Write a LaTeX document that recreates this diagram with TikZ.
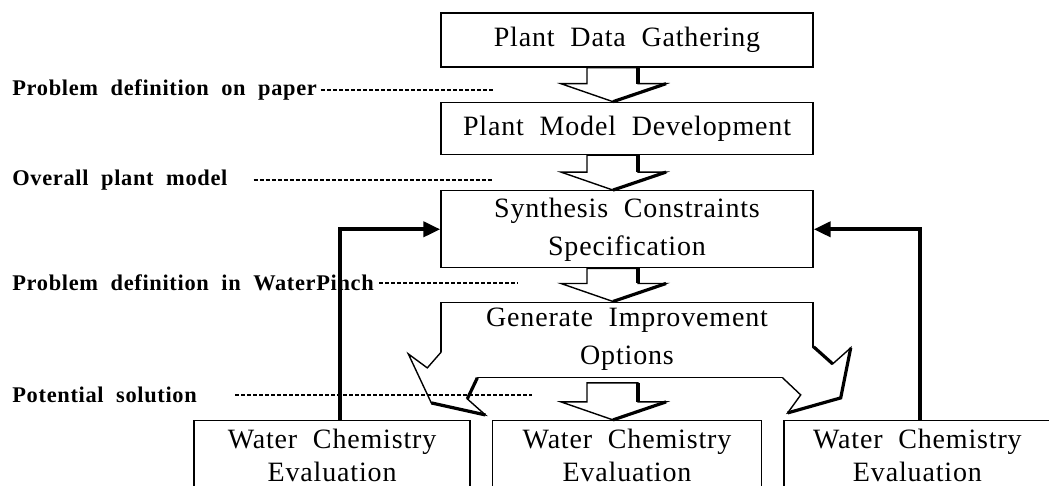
\documentclass[tikz,border=0pt]{standalone}
\usepackage{fontspec}
\setmainfont{Liberation Serif}
\newfontfamily\boxfont{Liberation Serif}[LetterSpace=3,WordSpace=2]
\newfontfamily\lblfont{Liberation Serif}[LetterSpace=3,WordSpace=2]
\usepackage{tikz}
\usetikzlibrary{positioning,arrows.meta,calc}

% hollow block arrow from one box down to the next (#1: gap below the upper box)
\newcommand{\downblock}[3][0]{%
  \draw[blk] ($(#2.south)+(-40,#1)$) -- ($(#3.north)+(-40,-18)$) -- ($(#3.north)+(-66,-18)$)
    -- ($(#3.north)+(-14,0)$) -- ($(#3.north)+(39,-18)$) -- ($(#3.north)+(11,-18)$)
    -- ($(#2.south)+(11,#1)$) -- cycle;
  \draw[blkshade] ($(#2.south)+(11,#1)$) -- ($(#3.north)+(11,-18)$);
  \draw[blkshade] ($(#3.north)+(-14,0)$) -- ($(#3.north)+(39,-18)$);
}

\begin{document}
\begin{tikzpicture}[
    x=0.5pt, y=-0.5pt,
    every node/.style={align=center},
    stagebox/.style={rectangle, draw, line width=0.7pt, minimum width=186pt,
                     inner sep=0pt, font=\boxfont\fontsize{14}{19}\selectfont},
    evalbox/.style={stagebox, minimum height=35pt,
                    font=\boxfont\fontsize{14}{16.5}\selectfont},
    lbl/.style={anchor=west, inner sep=0pt,
                font=\lblfont\bfseries\fontsize{11.2}{12}\selectfont},
    leader/.style={dash pattern=on 2pt off 1pt, line width=0.6pt},
    feedback/.style={line width=2pt, -{Triangle[length=8.5pt,width=7.5pt]}},
    blk/.style={draw, fill=white, line width=0.7pt, line join=miter},
    blkshade/.style={line width=1.6pt},
  ]
  \useasboundingbox (0,0) rectangle (1049,486);
  \clip (0,0) rectangle (1049,486);

  % main stages
  \node[stagebox, minimum height=27pt]                 (gather) at (627,40) {Plant Data Gathering};
  \node[stagebox, minimum height=26pt, below=17pt of gather]   (model) {Plant Model Development};
  \node[stagebox, minimum height=38.5pt, below=17.5pt of model] (synth) {Synthesis Constraints\\Specification};
  \node[stagebox, minimum height=37.5pt, below=16.5pt of synth] (opts)  {Generate Improvement\\Options};

  % evaluations (their lower edges run off the page)
  \node[evalbox, minimum width=134.5pt, below=21pt of opts]  (evalM) {Water Chemistry\\Evaluation};
  \node[evalbox, minimum width=138pt, left=10.5pt of evalM]  (evalL) {Water Chemistry\\Evaluation};
  \node[evalbox, minimum width=133.5pt, right=10.5pt of evalM] (evalR) {Water Chemistry\\Evaluation};

  % side labels
  \node[lbl] (lblpaper) at (12,90)  {Problem definition on paper};
  \node[lbl] (lblmodel) at (12,180) {Overall plant model};
  \node[lbl] (lblpinch) at (12,283) {Problem definition in WaterPinch};
  \node[lbl] (lblsol)   at (12,395) {Potential solution};
  \coordinate (endpaper) at (493,90);
  \coordinate (endmodel) at (493,180);
  \coordinate (endpinch) at (518,283);
  \coordinate (endsol)   at (532,395);

  % block arrows
  \downblock{gather}{model}
  \downblock{model}{synth}
  \downblock{synth}{opts}
  \downblock[5]{opts}{evalM}

  \draw[blk, shift={(opts.south west)}] (1,-26) -- (-13,-10) -- (-32,-24) -- (-9,25)
    -- (45,37) -- (27,21) -- (37,0);
  \draw[blkshade, shift={(opts.south west)}] (-9,25) -- (45,37) (27,21) -- (37,0);
  \draw[blk, shift={(opts.south east)}] (0,-31) -- (19,-14) -- (37,-30) -- (27,20)
    -- (-26,35) -- (-13,17) -- (-31,0);
  \draw[blkshade, shift={(opts.south east)}] (0,-31) -- (19,-14) (37,-30) -- (27,20) -- (-26,35);

  % leaders
  \draw[leader] ([xshift=2pt]lblpaper.east)  -- (endpaper);
  \draw[leader] ([xshift=13pt]lblmodel.east) -- (endmodel);
  \draw[leader] ([xshift=2.5pt]lblpinch.east) -- (endpinch);
  \draw[leader] ([xshift=19pt]lblsol.east)   -- (endsol);

  % feedback
  \draw[feedback] ([xshift=4pt]evalL.north)    |- (synth.west);
  \draw[feedback] ([xshift=1.25pt]evalR.north) |- (synth.east);
\end{tikzpicture}
\end{document}
